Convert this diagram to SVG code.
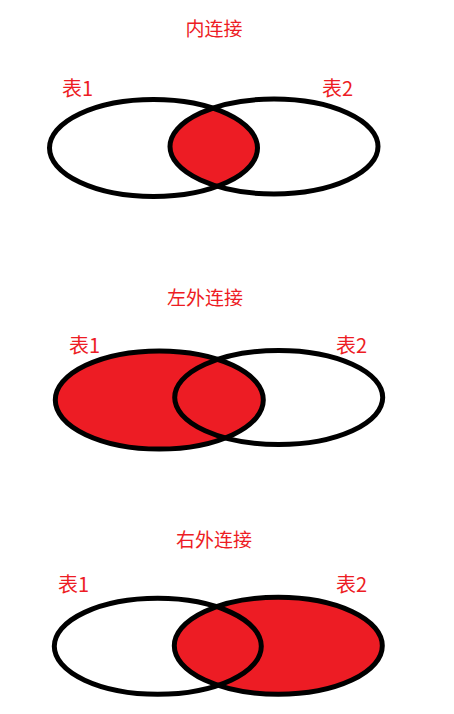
<svg xmlns="http://www.w3.org/2000/svg" width="454" height="714" viewBox="0 0 454 714">
<style>
.t{font-family:"Noto Sans CJK SC","Microsoft YaHei",sans-serif;font-size:19px;fill:#ED1C24}
.lb{font-family:"Noto Sans CJK SC","Microsoft YaHei",sans-serif;font-size:20px;fill:#ED1C24}
.e{fill:none;stroke:#000;stroke-width:5}
.r{fill:#ED1C24}
</style>
<defs>
<clipPath id="c1"><ellipse cx="274" cy="146.5" rx="104" ry="47.5"/></clipPath>
</defs>
<rect width="454" height="714" fill="#fff"/>
<g id="inner-join">
<text class="t" x="214" y="36" text-anchor="middle">内连接</text>
<text class="lb" x="62" y="96">表1</text>
<text class="lb" x="322" y="96">表2</text>
<ellipse class="r" cx="153.5" cy="148" rx="104" ry="48.5" clip-path="url(#c1)"/>
<ellipse id="t1a" class="e" cx="153.5" cy="148" rx="104" ry="48.5"/>
<ellipse id="t2a" class="e" cx="274" cy="146.5" rx="104" ry="47.5"/>
</g>
<g id="left-join">
<text class="t" x="205" y="305" text-anchor="middle">左外连接</text>
<text class="lb" x="69" y="353">表1</text>
<text class="lb" x="336" y="353">表2</text>
<ellipse class="r" cx="159.3" cy="400" rx="104" ry="49"/>
<ellipse id="t1b" class="e" cx="159.3" cy="400" rx="104" ry="49"/>
<ellipse id="t2b" class="e" cx="278.7" cy="397.5" rx="104" ry="47"/>
</g>
<g id="right-join">
<text class="t" x="214" y="547" text-anchor="middle">右外连接</text>
<text class="lb" x="58" y="592">表1</text>
<text class="lb" x="336" y="592">表2</text>
<ellipse class="r" cx="278.3" cy="645.8" rx="104" ry="48.5"/>
<ellipse id="t1c" class="e" cx="157.8" cy="646.3" rx="103.5" ry="48"/>
<ellipse id="t2c" class="e" cx="278.3" cy="645.8" rx="104" ry="48.5"/>
</g>
<g id="connectors"/>
</svg>
